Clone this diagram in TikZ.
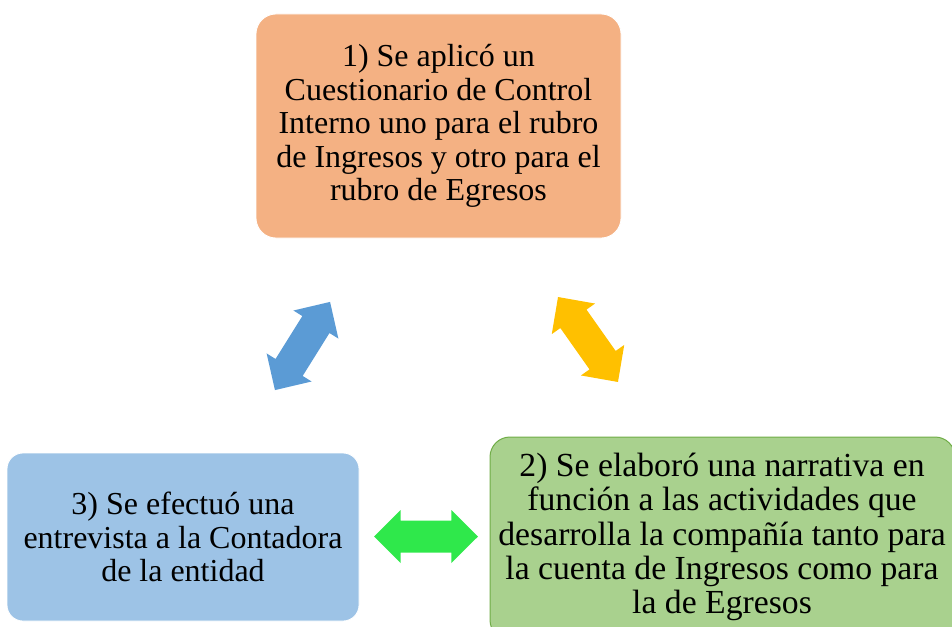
\documentclass[tikz,border=0pt]{standalone}
\usepackage{fontspec}
\setmainfont{Liberation Serif}
\definecolor{orangebox}{HTML}{F4B183}
\definecolor{bluebox}{HTML}{9DC3E6}
\definecolor{greenbox}{HTML}{A9D18E}
\definecolor{greenline}{HTML}{70AD47}
\definecolor{bluearrow}{HTML}{5B9BD5}
\definecolor{yellowarrow}{HTML}{FFC000}
\definecolor{greenarrow}{HTML}{2FE84B}
\tikzset{
  boxtext/.style={align=center, font=\fontsize{32}{33.5}\selectfont, text=black},
  bigtext/.style={align=center, font=\fontsize{33.7}{34.3}\selectfont, text=black},
  dblarrow/.pic={
    \fill[pic actions] (-52,0) -- (-25.3,26.5) -- (-25.3,16) -- (25.3,16) -- (25.3,26.5)
      -- (52,0) -- (25.3,-26.5) -- (25.3,-16) -- (-25.3,-16) -- (-25.3,-26.5) -- cycle;
  }
}
\begin{document}
\begin{tikzpicture}[x=1pt,y=1pt]
\useasboundingbox (0,0) rectangle (952,-626);
\begin{scope}
\clip (0,0) rectangle (952,-626);
% boxes
\draw[fill=orangebox, draw=white, line width=0.8pt, rounded corners=20pt] (256,-14) rectangle (621,-238);
\draw[fill=bluebox, draw=white, line width=0.8pt, rounded corners=16pt] (7,-453) rectangle (359,-621);
\draw[fill=greenbox, draw=greenline, line width=1pt, rounded corners=20pt] (490,-437) rectangle (955,-640);
\end{scope}
\node[boxtext] (b1) at (438.5,-126) {1) Se aplicó un\\Cuestionario de Control\\Interno uno para el rubro\\de Ingresos y otro para el\\rubro de Egresos};
\node[boxtext] (b3) at (183,-537) {3) Se efectuó una\\entrevista a la Contadora\\de la entidad};
\node[bigtext] (b2) at (722,-537) {2) Se elaboró una narrativa en\\función a las actividades que\\desarrolla la compañía tanto para\\la cuenta de Ingresos como para\\la de Egresos};
% arrows
\pic[fill=bluearrow, rotate=58] at (302.5,-346) {dblarrow};
\pic[fill=yellowarrow, rotate=-54.8] at (588,-339.5) {dblarrow};
\pic[fill=greenarrow] at (426,-536.5) {dblarrow};
\end{tikzpicture}
\end{document}
